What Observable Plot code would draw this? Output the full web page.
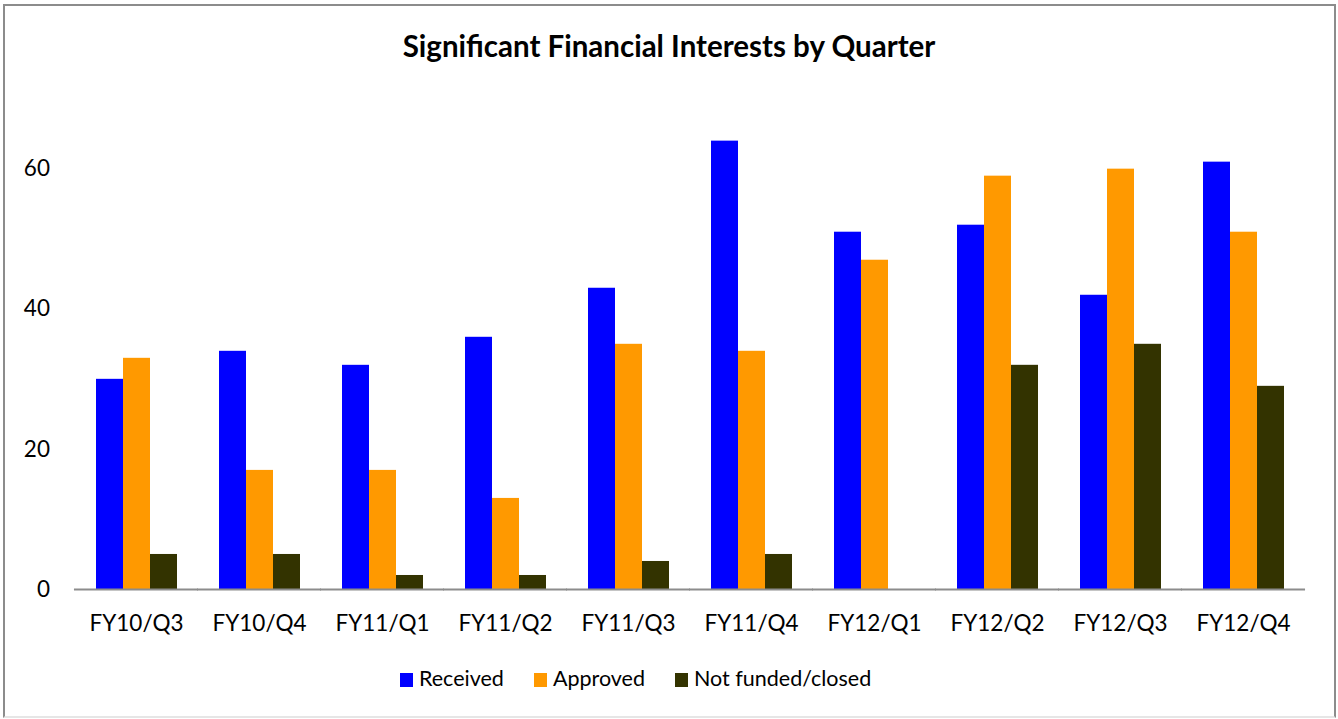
<!DOCTYPE html>
<html><head><meta charset="utf-8">
<script src="https://cdn.jsdelivr.net/npm/d3@7"></script>
<script src="https://cdn.jsdelivr.net/npm/@observablehq/plot@0.6"></script>
<style>
body{margin:0;background:#fff;font-family:Lato,"Open Sans",sans-serif;}
#page{position:relative;width:1338px;height:719px;overflow:hidden;}
#frame{position:absolute;left:3px;top:4px;width:1333px;height:714px;box-sizing:border-box;border:2px solid #8c8c8c;border-bottom-color:#e6e6e6;}
#title{position:absolute;left:0;width:1338px;top:28px;text-align:center;font-weight:bold;font-size:29.5px;color:#000;}
#chart{position:absolute;left:0;top:0;}
#legend{position:absolute;left:400px;top:665px;white-space:nowrap;font-size:21.5px;color:#000;}
#legend span.item{display:inline-block;margin-right:30px;}
#legend span.sw{display:inline-block;width:13px;height:14px;margin-right:6px;vertical-align:-1px;}
</style></head>
<body>
<div id="page">
  <div id="frame"></div>
  <div id="chart"></div>
  <div id="title"></div>
  <div id="legend"></div>
</div>
<script>
const title = "Significant Financial Interests by Quarter";
const quarters = ["FY10/Q3","FY10/Q4","FY11/Q1","FY11/Q2","FY11/Q3","FY11/Q4","FY12/Q1","FY12/Q2","FY12/Q3","FY12/Q4"];
const seriesNames = ["Received","Approved","Not funded/closed"];
const seriesColors = ["#0000ff","#ff9900","#333300"];
const received = [30,34,32,36,43,64,51,52,42,61];
const approved = [33,17,17,13,35,34,47,59,60,51];
const notFunded = [5,5,2,2,4,5,0,32,35,29];
const yTicks = [0,20,40,60];

const seriesValues = [received, approved, notFunded];
const data = [];
quarters.forEach((q,i)=>seriesNames.forEach((s,j)=>data.push({quarter:q, series:s, value:seriesValues[j][i]})));

const fxPadIn = 1/3, fxPadOut = 1/6;
const ml = 73, mr = 32, W = 1338;
const step = (W-ml-mr)/(quarters.length - fxPadIn + 2*fxPadOut);
const gapHalf = step*fxPadIn/2;
const gapOuter = step*fxPadOut;
const font = "Lato, 'Open Sans', sans-serif";

const plot = Plot.plot({
  width: W, height: 640,
  marginLeft: ml, marginRight: mr, marginTop: 98.6, marginBottom: 51,
  style:{fontFamily:font, fontSize:"22.5px", color:"#000", background:"transparent"},
  fx:{domain:quarters, paddingInner:fxPadIn, paddingOuter:fxPadOut, axis:null},
  x:{domain:seriesNames, padding:0, axis:null},
  y:{domain:[0,70], axis:null},
  color:{domain:seriesNames, range:seriesColors},
  marks:[
    Plot.barY(data,{fx:"quarter", x:"series", y:"value", fill:"series", inset:0}),
    Plot.ruleY([0],{stroke:"#8c8c8c", strokeWidth:2, insetLeft:-gapHalf-0.5, insetRight:-gapHalf-0.5}),
    Plot.axisY({ticks:yTicks, tickSize:0, tickPadding:3, dx:-gapOuter-22, label:null, tickFormat:d=>String(d), fontSize:22.5}),
    Plot.axisFx({anchor:"bottom", tickSize:0, tickPadding:26, label:null, fontSize:22.5})
  ]
});
document.getElementById("chart").appendChild(plot);
document.getElementById("title").textContent = title;
const lg = document.getElementById("legend");
seriesNames.forEach((s,j)=>{
  const it = document.createElement("span"); it.className="item";
  const sw = document.createElement("span"); sw.className="sw"; sw.style.background=seriesColors[j];
  it.appendChild(sw); it.appendChild(document.createTextNode(s)); lg.appendChild(it);
});
</script>
</body></html>
